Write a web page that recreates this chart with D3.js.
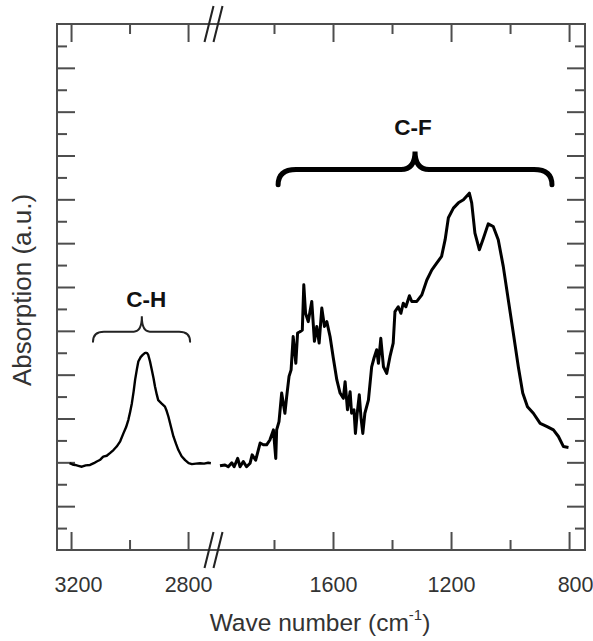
<!DOCTYPE html>
<html>
<head>
<meta charset="utf-8">
<script src="https://cdn.jsdelivr.net/npm/d3@7"></script>
<style>
  body { margin: 0; background: #fff; }
  svg text { font-family: "Liberation Sans", Arial, sans-serif; }
</style>
</head>
<body>
<svg id="chart" width="593" height="641"></svg>
<script>
// C-H stretching band (left part of the broken axis): [wave number, absorption]
const chBand = [
  [3205, 1.98], [3195, 1.95], [3186, 1.94], [3175, 1.92], [3163, 1.90], [3150, 1.93],
  [3135, 1.94], [3122, 1.98], [3112, 2.02], [3100, 2.06], [3090, 2.13], [3078, 2.15],
  [3067, 2.21], [3055, 2.28], [3044, 2.36], [3032, 2.48], [3021, 2.66], [3012, 2.80],
  [3004, 2.97], [2998, 3.15], [2992, 3.35], [2986, 3.62], [2981, 3.88], [2975, 4.12],
  [2970, 4.30], [2962, 4.40], [2955, 4.45], [2948, 4.49], [2944, 4.50], [2940, 4.49],
  [2936, 4.45], [2930, 4.30], [2924, 4.11], [2918, 3.92], [2913, 3.73], [2907, 3.55],
  [2902, 3.42], [2890, 3.34], [2879, 3.27], [2873, 3.17], [2867, 3.04], [2858, 2.80],
  [2850, 2.59], [2841, 2.42], [2833, 2.28], [2822, 2.14], [2810, 2.05], [2798, 1.98],
  [2787, 1.96], [2773, 1.97], [2759, 1.98], [2745, 1.97], [2731, 1.99], [2722, 1.98]
];

// C-F region (right part of the broken axis): [wave number, absorption]
const cfBand = [
  [1983, 1.92], [1966, 1.94], [1955, 1.90], [1943, 1.99], [1935, 1.90], [1923, 2.09],
  [1915, 1.90], [1904, 2.02], [1893, 1.90], [1881, 1.98], [1874, 2.17], [1862, 2.05],
  [1847, 2.44], [1836, 2.40], [1825, 2.40], [1814, 2.51], [1802, 2.74], [1794, 2.09],
  [1791, 2.74], [1783, 2.93], [1774, 3.58], [1763, 3.12], [1757, 3.50], [1749, 3.96],
  [1742, 4.11], [1735, 4.87], [1726, 4.26], [1720, 4.95], [1712, 4.98], [1704, 5.02],
  [1699, 6.05], [1693, 5.40], [1684, 5.21], [1672, 5.67], [1663, 4.76], [1655, 5.10],
  [1647, 4.72], [1638, 5.52], [1629, 5.10], [1621, 5.21], [1610, 4.87], [1599, 4.38],
  [1587, 3.88], [1576, 3.58], [1565, 3.46], [1559, 3.84], [1551, 3.20], [1542, 3.61],
  [1537, 3.12], [1529, 3.20], [1524, 2.66], [1518, 3.12], [1511, 3.54], [1505, 3.01],
  [1499, 2.66], [1492, 3.12], [1480, 3.42], [1469, 4.18], [1461, 4.38], [1452, 4.57],
  [1446, 4.26], [1438, 4.83], [1429, 4.18], [1418, 4.03], [1407, 4.41], [1396, 4.72],
  [1390, 5.44], [1379, 5.55], [1370, 5.40], [1362, 5.63], [1353, 5.55], [1341, 5.80],
  [1333, 5.67], [1316, 5.67], [1299, 5.82], [1282, 6.16], [1265, 6.39], [1248, 6.55],
  [1232, 6.70], [1220, 7.08], [1209, 7.58], [1192, 7.80], [1175, 7.92], [1158, 7.99],
  [1138, 8.14], [1130, 7.92], [1119, 7.23], [1104, 6.85], [1090, 7.12], [1074, 7.44],
  [1057, 7.38], [1040, 7.08], [1023, 6.47], [1006, 5.71], [989, 4.95], [972, 4.18],
  [957, 3.58], [941, 3.27], [921, 3.12], [898, 2.89], [876, 2.82], [853, 2.74],
  [836, 2.59], [819, 2.36], [802, 2.34]
];

// Tick values
const leftMajor = [3200, 2800];
const leftMinor = [3000];
const rightMajor = [1600, 1200, 800];
const rightMinor = [1800, 1400, 1000];
const yMajor = d3.range(1, 12);
const yMinor = d3.range(0.5, 12, 1);

// Band annotations: brace ends/tip in wave number, heights in absorption units
const bands = [
  { label: 'C-H', side: 'left', from: 3125, mid: 2958, to: 2793, end: 4.75, flat: 4.98, tip: 5.33, labelAt: 2943, labelY: 5.55 },
  { label: 'C-F', side: 'right', from: 1786, mid: 1322, to: 858, end: 8.33, flat: 8.68, tip: 9.09, labelAt: 1329, labelY: 9.47 }
];

const svg = d3.select('#chart');
const plotLeft = 57, plotRight = 585, plotTop = 24, plotBottom = 550;
const breakX = 213.5;
const axisColor = '#4d4d4d';

const xLeft = d3.scaleLinear().domain([3248, 2713]).range([plotLeft, breakX]);
const xRight = d3.scaleLinear().domain([2005, 746]).range([breakX, plotRight]);
const y = d3.scaleLinear().domain([0, 12]).range([plotBottom, plotTop]);

// Draw ticks for one axis generator and style them
function drawAxis(axis, transform) {
  const g = svg.append('g').attr('transform', transform).call(axis);
  g.select('.domain').remove();
  g.selectAll('.tick line').attr('stroke', axisColor).attr('stroke-width', 2);
  g.selectAll('.tick text')
    .attr('fill', '#333')
    .style('font-size', '21.5px');
  return g;
}

// X axes, bottom and top, both segments
[[xLeft, leftMajor, leftMinor], [xRight, rightMajor, rightMinor]].forEach(([scale, major, minor]) => {
  const g = drawAxis(d3.axisBottom(scale).tickValues(major).tickSizeInner(-18).tickSizeOuter(0)
    .tickPadding(27).tickFormat(d3.format('d')), `translate(0,${plotBottom})`);
  // the outermost labels sit a little inward in the original
  g.selectAll('.tick text').attr('dx', d => (d === 3200 ? 7 : d === 800 ? 6 : 0));
  drawAxis(d3.axisBottom(scale).tickValues(minor).tickSizeInner(-10).tickSizeOuter(0)
    .tickFormat(''), `translate(0,${plotBottom})`);
  drawAxis(d3.axisTop(scale).tickValues(major).tickSizeInner(-18).tickSizeOuter(0)
    .tickFormat(''), `translate(0,${plotTop})`);
  drawAxis(d3.axisTop(scale).tickValues(minor).tickSizeInner(-10).tickSizeOuter(0)
    .tickFormat(''), `translate(0,${plotTop})`);
});

// Y axes, left and right, no labels
drawAxis(d3.axisLeft(y).tickValues(yMajor).tickSizeInner(-18).tickSizeOuter(0).tickFormat(''), `translate(${plotLeft},0)`);
drawAxis(d3.axisLeft(y).tickValues(yMinor).tickSizeInner(-10).tickSizeOuter(0).tickFormat(''), `translate(${plotLeft},0)`);
drawAxis(d3.axisRight(y).tickValues(yMajor).tickSizeInner(-18).tickSizeOuter(0).tickFormat(''), `translate(${plotRight},0)`);
drawAxis(d3.axisRight(y).tickValues(yMinor).tickSizeInner(-10).tickSizeOuter(0).tickFormat(''), `translate(${plotRight},0)`);

// Frame
svg.append('rect')
  .attr('x', plotLeft).attr('y', plotTop)
  .attr('width', plotRight - plotLeft).attr('height', plotBottom - plotTop)
  .attr('fill', 'none')
  .attr('stroke', axisColor)
  .attr('stroke-width', 2);

// Axis break marks "//" on top and bottom
[plotTop, plotBottom].forEach(ya => {
  [-4.5, 4.5].forEach(off => {
    svg.append('line')
      .attr('x1', breakX + off - 4.5).attr('y1', ya + 18)
      .attr('x2', breakX + off + 4.5).attr('y2', ya - 18)
      .attr('stroke', '#222')
      .attr('stroke-width', 2);
  });
});

// Spectra
const lineLeft = d3.line().x(d => xLeft(d[0])).y(d => y(d[1]));
const lineRight = d3.line().x(d => xRight(d[0])).y(d => y(d[1]));

svg.append('path')
  .datum(chBand)
  .attr('d', lineLeft)
  .attr('fill', 'none')
  .attr('stroke', '#000')
  .attr('stroke-width', 2.4)
  .attr('stroke-linejoin', 'round');

svg.append('path')
  .datum(cfBand)
  .attr('d', lineRight)
  .attr('fill', 'none')
  .attr('stroke', '#000')
  .attr('stroke-width', 3)
  .attr('stroke-linejoin', 'round');

// Curly braces with labels
function bracePath(x0, xm, x1, yEnd, yFlat, yTip, r, rt) {
  const p = d3.path();
  p.moveTo(x0, yEnd);
  p.quadraticCurveTo(x0, yFlat, x0 + r, yFlat);
  p.lineTo(xm - rt, yFlat);
  p.quadraticCurveTo(xm, yFlat, xm, yTip);
  p.quadraticCurveTo(xm, yFlat, xm + rt, yFlat);
  p.lineTo(x1 - r, yFlat);
  p.quadraticCurveTo(x1, yFlat, x1, yEnd);
  return p.toString();
}

bands.forEach(b => {
  const sx = b.side === 'left' ? xLeft : xRight;
  const big = b.side === 'right';
  svg.append('path')
    .attr('d', bracePath(sx(b.from), sx(b.mid), sx(b.to), y(b.end), y(b.flat), y(b.tip),
      big ? 18 : 11, big ? 14 : 8))
    .attr('fill', 'none')
    .attr('stroke', big ? '#000' : '#222')
    .attr('stroke-width', big ? 5 : 2)
    .attr('stroke-linecap', 'round');

  svg.append('text')
    .attr('x', sx(b.labelAt))
    .attr('y', y(b.labelY))
    .attr('text-anchor', 'middle')
    .attr('fill', '#111')
    .style('font-size', '22.5px')
    .style('font-weight', 'bold')
    .text(b.label);
});

// Axis titles
const xTitle = svg.append('text')
  .attr('x', 320)
  .attr('y', 631)
  .attr('text-anchor', 'middle')
  .attr('fill', '#333')
  .style('font-size', '24.5px');
xTitle.append('tspan').text('Wave number (cm');
xTitle.append('tspan').attr('dy', -11).style('font-size', '15px').text('-1');
xTitle.append('tspan').attr('dy', 11).text(')');

svg.append('text')
  .attr('transform', 'translate(31,290) rotate(-90)')
  .attr('text-anchor', 'middle')
  .attr('fill', '#333')
  .style('font-size', '26px')
  .text('Absorption (a.u.)');
</script>
</body>
</html>
